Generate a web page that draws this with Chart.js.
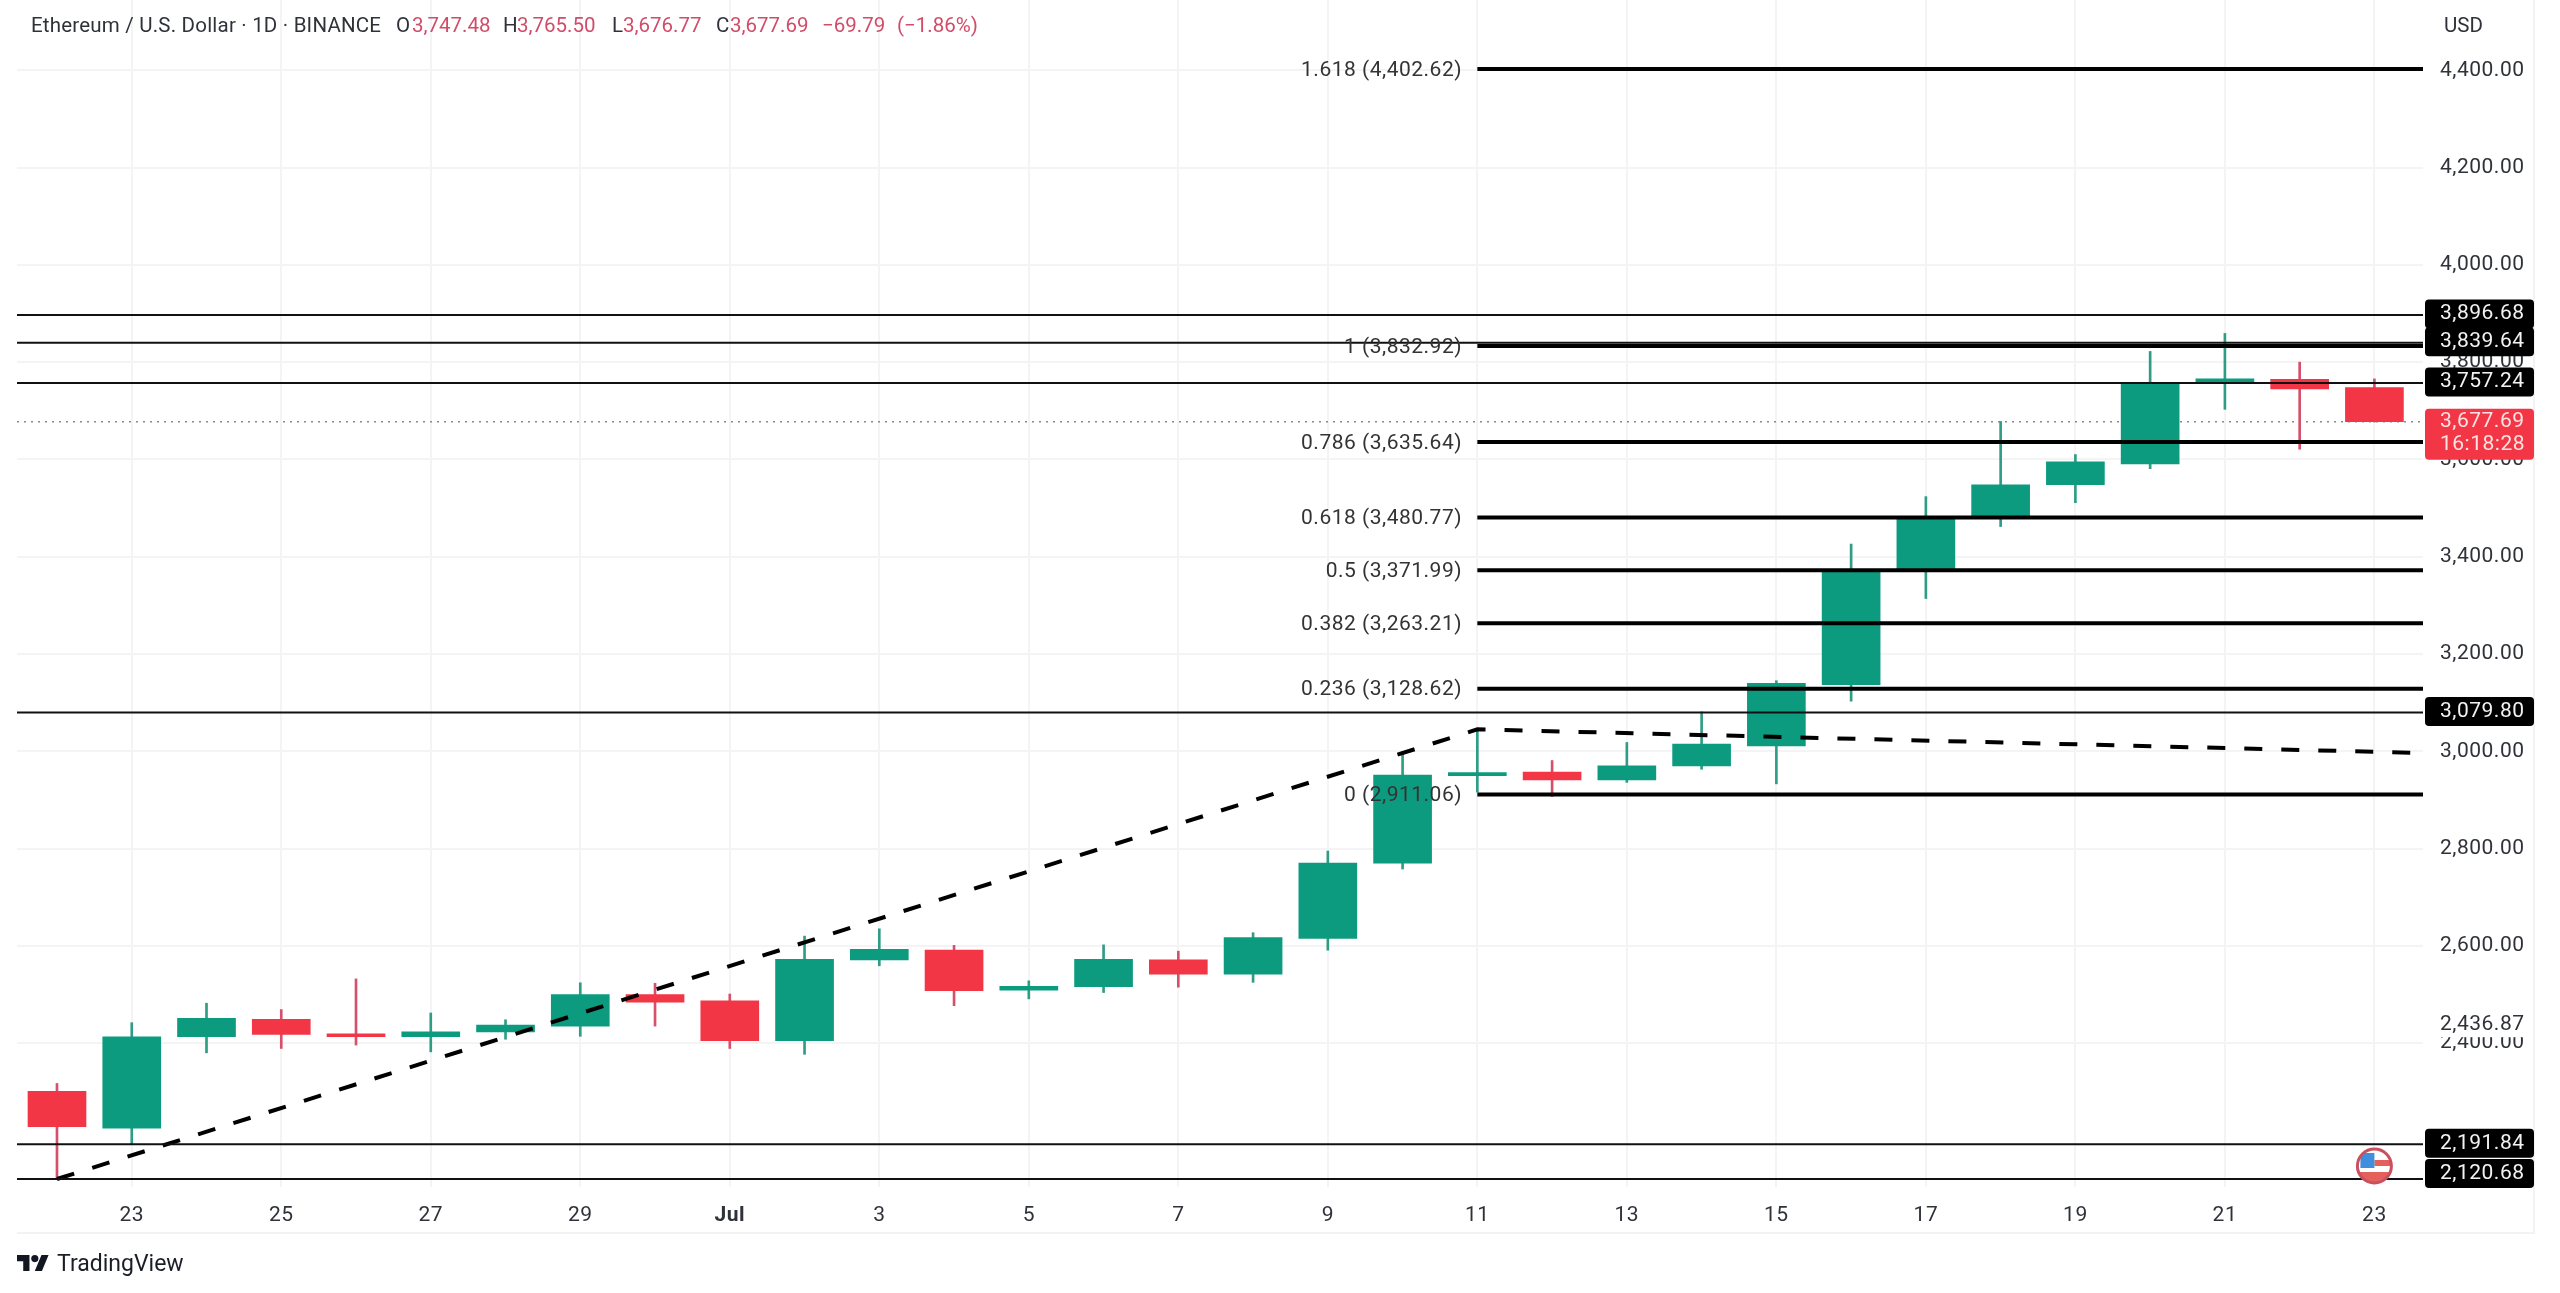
<!DOCTYPE html>
<html lang="en">
<head>
    <meta charset="utf-8">
    <title>Ethereum / U.S. Dollar</title>
    <script src="https://cdn.jsdelivr.net/npm/chart.js"></script>
    <style>
        html, body { margin: 0; padding: 0; background: #fff; }
        canvas { display: block; }
    </style>
</head>
<body>
    <canvas id="ethChart" width="2560" height="1293" style="width:2560px;height:1293px"></canvas>
    <script>
        // candles, Jun 22 to Jul 23
        const opens  = [2301, 2225, 2413, 2449, 2419, 2413, 2423, 2435, 2500, 2487, 2405, 2571, 2591.5, 2509, 2516, 2571, 2542, 2615, 2770, 2950, 2957, 2941, 2970, 3011, 3137, 3375, 3482, 3548, 3591, 3759, 3764.5, 3747.48];
        const highs  = [2317, 2442, 2482, 2469, 2532, 2462, 2448, 2524, 2523, 2501, 2620, 2635, 2601, 2528, 2602, 2589, 2627, 2795, 2999, 3044, 2981, 3018, 3081, 3145, 3426, 3523.5, 3678, 3610, 3822, 3859, 3800, 3765.5];
        const lows   = [2120.68, 2192, 2380, 2389, 2396, 2382, 2408, 2414, 2435, 2389, 2377, 2559, 2477, 2491, 2504, 2515, 2525, 2591, 2758, 2916, 2907, 2936, 2963, 2933, 3103, 3314, 3462, 3511, 3581, 3703, 3621, 3676.77];
        const closes = [2228, 2413, 2451, 2418, 2413, 2423, 2437, 2500, 2484, 2405, 2572, 2593, 2508, 2517, 2572, 2542, 2617, 2770, 2951, 2956, 2941, 2970, 3015, 3139.6, 3369, 3477, 3548, 3595, 3758, 3765.5, 3745, 3677.69];

        // tick labels
        const xTickIndex  = [1, 3, 5, 7, 9, 11, 13, 15, 17, 19, 21, 23, 25, 27, 29, 31];
        const xTickLabels = ['23', '25', '27', '29', 'Jul', '3', '5', '7', '9', '11', '13', '15', '17', '19', '21', '23'];
        const yTickValues = [2400, 2600, 2800, 3000, 3200, 3400, 3600, 3800, 4000, 4200, 4400];
        const yTickLabels = ['2,400.00', '2,600.00', '2,800.00', '3,000.00', '3,200.00', '3,400.00', '3,600.00', '3,800.00', '4,000.00', '4,200.00', '4,400.00'];

        // horizontal rays with a black price tag
        const rayPrices = [3896.68, 3839.64, 3757.24, 3079.80, 2191.84, 2120.68];
        const rayLabels = ['3,896.68', '3,839.64', '3,757.24', '3,079.80', '2,191.84', '2,120.68'];

        // fib retracement
        const fibPrices = [4402.62, 3832.92, 3635.64, 3480.77, 3371.99, 3263.21, 3128.62, 2911.06];
        const fibLabels = ['1.618 (4,402.62)', '1 (3,832.92)', '0.786 (3,635.64)', '0.618 (3,480.77)', '0.5 (3,371.99)', '0.382 (3,263.21)', '0.236 (3,128.62)', '0 (2,911.06)'];
        const fibStart = 19;

        // dashed trend line
        const trendIndex = [0, 19, 31.5];
        const trendPrice = [2120.68, 3045, 2997];

        const lastPrice = 3677.69;
        const GREEN = '#0c9b7f';
        const RED = '#f23645';
        const TEXT = '#2f3239';
        const FONT = 'Roboto, sans-serif';

        const xMin = -0.535, xMax = 31.65;

        const isUp = opens.map((o, i) => closes[i] >= o);
        const hline = (y, x0) => [{ x: x0, y: y }, { x: xMax, y: y }];

        const lineSets = [];
        rayPrices.forEach(p => lineSets.push({ type: 'line', data: hline(p, xMin), borderColor: '#111', borderWidth: 2, pointRadius: 0, order: 0 }));
        fibPrices.forEach(p => lineSets.push({ type: 'line', data: hline(p, fibStart), borderColor: '#000', borderWidth: 4, pointRadius: 0, order: 0 }));
        lineSets.push({ type: 'line', data: hline(lastPrice, xMin), borderColor: '#8a8a8a', borderWidth: 1.5, borderDash: [2, 5], pointRadius: 0, order: 3 });
        lineSets.push({
            type: 'line',
            data: trendIndex.map((x, i) => ({ x: x, y: trendPrice[i] })),
            borderColor: '#000', borderWidth: 4, borderDash: [18, 19], pointRadius: 0, tension: 0, order: 0
        });

        // header and tags and logo, everything that is not a chart element
        const overlay = {
            id: 'overlay',
            beforeDraw(chart) {
                chart.ctx.letterSpacing = '0.5px';
            },
            afterDraw(chart) {
                const ctx = chart.ctx;
                const y = chart.scales.y, x = chart.scales.x;
                ctx.save();
                ctx.textBaseline = 'middle';

                // axis frame
                ctx.strokeStyle = '#f3f3f5';
                ctx.lineWidth = 2;
                ctx.beginPath();
                ctx.moveTo(17, 1233); ctx.lineTo(2534, 1233); ctx.lineTo(2534, 0);
                ctx.stroke();

                // header
                ctx.font = '20.5px ' + FONT;
                ctx.letterSpacing = '0.2px';
                ctx.fillStyle = TEXT;
                ctx.fillText('Ethereum / U.S. Dollar · 1D · BINANCE', 31, 27);
                ctx.letterSpacing = '0px';
                const head = [
                    [396, 'O', TEXT], [412, '3,747.48', '#d14c68'],
                    [503, 'H', TEXT], [517, '3,765.50', '#d14c68'], [612, 'L', TEXT], [623, '3,676.77', '#d14c68'],
                    [716, 'C', TEXT], [730, '3,677.69', '#d14c68'], [822, '−69.79', '#d14c68'], [897, '(−1.86%)', '#d14c68']
                ];
                head.forEach(h => { ctx.fillStyle = h[2]; ctx.fillText(h[1], h[0], 27); });
                ctx.fillStyle = TEXT;
                ctx.fillText('USD', 2444, 27);

                // fib labels
                ctx.font = '21px ' + FONT;
                ctx.letterSpacing = '0.5px';
                ctx.textAlign = 'right';
                ctx.fillStyle = '#333';
                fibPrices.forEach((p, i) => ctx.fillText(fibLabels[i], 1462, y.getPixelForValue(p) + 1.5));
                ctx.textAlign = 'left';

                // plain price label covering the 2,400 tick
                const plainY = y.getPixelForValue(2436.87);
                ctx.fillStyle = '#fff';
                ctx.fillRect(2436, plainY - 13, 94, 25);
                ctx.fillStyle = TEXT;
                ctx.fillText('2,436.87', 2440, plainY);

                // black tags; the lowest one sits a bit above its line like in the app
                rayPrices.forEach((p, i) => {
                    const cy = y.getPixelForValue(p) - (p === 2120.68 ? 5.5 : 1);
                    ctx.fillStyle = '#000';
                    ctx.beginPath();
                    ctx.roundRect(2425, cy - 14.5, 109, 29, 4);
                    ctx.fill();
                    ctx.fillStyle = '#f2f2f2';
                    ctx.fillText(rayLabels[i], 2440, cy);
                });

                // last price tag
                const lastY = y.getPixelForValue(lastPrice);
                ctx.fillStyle = RED;
                ctx.beginPath();
                ctx.roundRect(2425, lastY - 13, 109, 51, 4);
                ctx.fill();
                ctx.fillStyle = '#fde3e3';
                ctx.fillText('3,677.69', 2440, lastY + 0.5);
                ctx.fillText('16:18:28', 2440, lastY + 23.5);

                // US flag marker
                const fx = x.getPixelForValue(31), fy = 1166;
                ctx.save();
                ctx.beginPath();
                ctx.arc(fx, fy, 17, 0, Math.PI * 2);
                ctx.fillStyle = '#fff';
                ctx.fill();
                ctx.clip();
                ctx.fillStyle = '#e4605a';
                ctx.fillRect(fx, fy - 6, 18, 6);
                ctx.fillRect(fx - 18, fy + 6, 36, 12);
                ctx.fillStyle = '#3f8fdc';
                ctx.fillRect(fx - 14, fy - 13, 14, 15);
                ctx.restore();
                ctx.strokeStyle = '#c9505f';
                ctx.lineWidth = 3;
                ctx.beginPath();
                ctx.arc(fx, fy, 17, 0, Math.PI * 2);
                ctx.stroke();

                // TradingView logo
                ctx.save();
                ctx.translate(17, 1251.5);
                ctx.scale(0.89, 0.89);
                ctx.fillStyle = '#131722';
                ctx.fill(new Path2D('M14 22H7V11H0V4h14v18zM28 22h-8l7.5-18h8L28 22z'));
                ctx.beginPath();
                ctx.arc(20, 8, 4, 0, Math.PI * 2);
                ctx.fill();
                ctx.restore();
                ctx.letterSpacing = '0px';
                ctx.font = '400 23px ' + FONT;
                ctx.fillStyle = '#1b1e27';
                ctx.fillText('TradingView', 57, 1265);
                ctx.restore();
            }
        };

        new Chart(document.getElementById('ethChart').getContext('2d'), {
            type: 'bar',
            data: {
                datasets: [
                    // wicks
                    {
                        data: opens.map((o, i) => ({ x: i, y: [lows[i], highs[i]] })),
                        backgroundColor: isUp.map(u => u ? '#2f9c86' : '#d5506a'),
                        barThickness: 2,
                        order: 2
                    },
                    // bodies
                    {
                        data: opens.map((o, i) => ({ x: i, y: [o, closes[i]] })),
                        backgroundColor: isUp.map(u => u ? GREEN : RED),
                        barThickness: 58,
                        order: 1
                    }
                ].concat(lineSets)
            },
            options: {
                responsive: false,
                devicePixelRatio: 1,
                animation: false,
                grouped: false,
                layout: { padding: { left: 17, top: 0, right: 0, bottom: 0 } },
                plugins: { legend: { display: false }, tooltip: { enabled: false }, title: { display: false } },
                scales: {
                    x: {
                        type: 'linear',
                        min: xMin,
                        max: xMax,
                        offset: false,
                        afterFit(s) { s.height = 106; },
                        afterBuildTicks(s) { s.ticks = xTickIndex.map(v => ({ value: v })); },
                        border: { display: false },
                        grid: { color: '#f4f4f6', lineWidth: 2, drawTicks: false, offset: false },
                        ticks: {
                            autoSkip: false,
                            maxRotation: 0,
                            padding: 16,
                            color: TEXT,
                            font: c => ({ family: FONT, size: 21, weight: xTickLabels[c.index] === 'Jul' ? '700' : '400' }),
                            callback: v => xTickLabels[xTickIndex.indexOf(v)]
                        }
                    },
                    y: {
                        position: 'right',
                        min: 2104.2,
                        max: 4544.5,
                        // no extra room for the end labels, the plot runs to the top of the page
                        afterFit(s) { s.width = 137; s.paddingTop = 0; s.paddingBottom = 0; },
                        afterBuildTicks(s) { s.ticks = yTickValues.map(v => ({ value: v })); },
                        border: { display: false },
                        grid: { color: '#f4f4f6', lineWidth: 2, drawTicks: false },
                        ticks: {
                            padding: 17,
                            color: TEXT,
                            font: { family: FONT, size: 21 },
                            callback: v => yTickLabels[yTickValues.indexOf(v)]
                        }
                    }
                }
            },
            plugins: [overlay]
        });
    </script>
</body>
</html>
